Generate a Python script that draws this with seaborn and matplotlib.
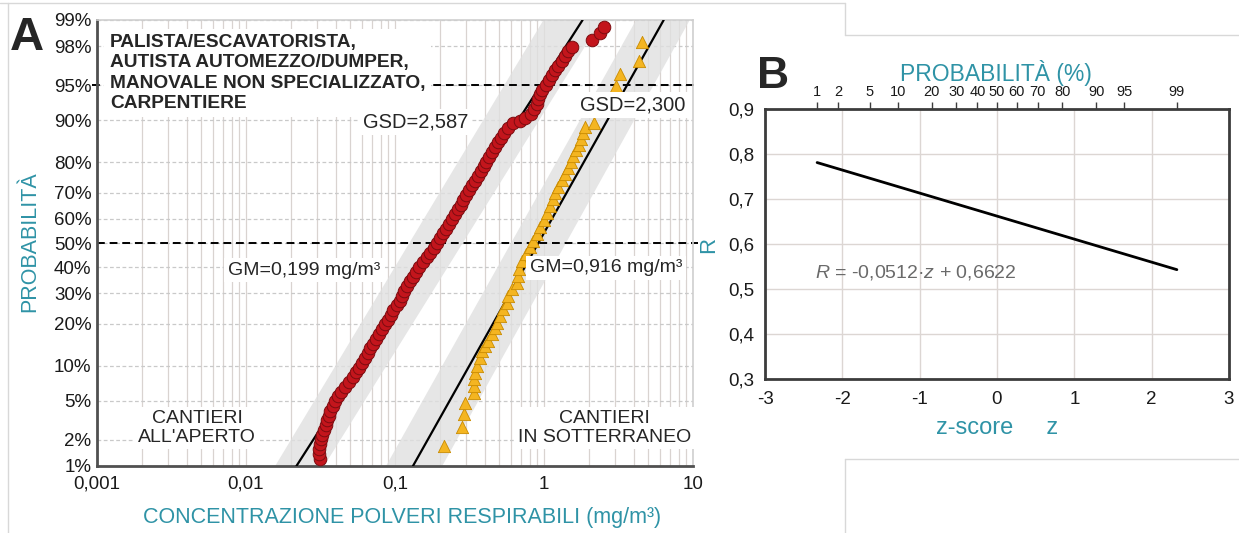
import numpy as np
import matplotlib
matplotlib.use("Agg")
import matplotlib.pyplot as plt
import seaborn as sns
from matplotlib.lines import Line2D
from statistics import NormalDist

# ---------------- DATA ----------------
# Panel A - outdoor sites (red circles): concentration (mg/m3) and cumulative probability (%)
red_conc = [0.0314, 0.0311, 0.0309, 0.0314, 0.0319, 0.0326, 0.0334, 0.0342, 0.0350, 0.0359,
            0.0366, 0.0381, 0.0395, 0.0412, 0.0431, 0.0462, 0.0494, 0.0523, 0.0548, 0.0574,
            0.0600, 0.0627, 0.0655, 0.0683, 0.0712, 0.0746, 0.0781, 0.0818, 0.0855, 0.0893,
            0.0933, 0.0976, 0.1027, 0.1080, 0.1116, 0.1158, 0.1206, 0.1253, 0.1317, 0.1385,
            0.1460, 0.1543, 0.1634, 0.1728, 0.1818, 0.1910, 0.2004, 0.2102, 0.2199, 0.2303,
            0.2413, 0.2523, 0.2635, 0.2752, 0.2873, 0.3000, 0.3133, 0.3276, 0.3426, 0.3589,
            0.3754, 0.3932, 0.4106, 0.4287, 0.4484, 0.4683, 0.4882, 0.5106, 0.5348, 0.5759,
            0.6223, 0.685, 0.7504, 0.8243, 0.8595, 0.8920, 0.9143, 0.9344, 0.9770, 1.028, 1.079,
            1.126, 1.184, 1.247, 1.313, 1.381, 1.460, 1.553,
            2.100, 2.376, 2.527]
red_prob = [1.22, 1.39, 1.58, 1.79, 2.02, 2.28, 2.56, 2.87, 3.22, 3.59,
            4.01, 4.46, 4.95, 5.48, 6.06, 6.68, 7.35, 8.08, 8.85, 9.68,
            10.56, 11.51, 12.51, 13.57, 14.69, 15.87, 17.11, 18.41, 19.77, 21.19,
            22.66, 24.20, 25.78, 27.43, 29.12, 30.85, 32.64, 34.46, 36.32, 38.21,
            40.13, 42.07, 44.04, 46.02, 48.01, 50.00, 51.99, 53.98, 55.96, 57.93,
            59.87, 61.79, 63.68, 65.54, 67.36, 69.15, 70.88, 72.57, 74.22, 75.80,
            77.34, 78.81, 80.23, 81.59, 82.89, 84.13, 85.31, 86.43, 87.49, 88.49,
            89.44, 89.85, 90.32, 91.15, 91.92, 92.65, 93.32, 93.94, 94.52, 95.05, 95.54,
            95.99, 96.41, 96.78, 97.13, 97.44, 97.72, 97.98,
            98.29, 98.57, 98.79]

# Panel A - underground sites (yellow triangles)
yel_conc = [0.213, 0.282, 0.290, 0.295, 0.339, 0.339, 0.339, 0.344, 0.355, 0.372,
            0.384, 0.402, 0.421, 0.448, 0.469, 0.484, 0.507, 0.531, 0.565, 0.573,
            0.610, 0.659, 0.669, 0.680, 0.712, 0.757, 0.805, 0.844, 0.897, 0.940,
            1.000, 1.047, 1.097, 1.149, 1.185, 1.242, 1.321, 1.383, 1.449, 1.518,
            1.565, 1.640, 1.718, 1.772, 1.827, 1.885, 2.166, 3.042, 3.236, 4.342, 4.548]
yel_prob = [1.71, 2.76, 3.74, 4.78, 5.90, 6.81, 7.84, 8.79, 10.01, 11.57,
            13.05, 14.19, 15.41, 17.21, 18.86, 20.30, 22.42, 24.67, 26.70, 29.15,
            31.71, 33.98, 36.69, 39.47, 42.74, 45.62, 48.13, 51.04, 53.94, 56.44,
            59.29, 62.10, 64.88, 67.54, 69.74, 71.90, 74.32, 76.30, 78.19, 80.01,
            81.70, 83.32, 84.59, 86.03, 87.38, 88.63, 89.42, 94.91, 96.09, 97.11, 98.20]

# fitted lognormal lines (end points at 1% and 99%)
fit_prob = [1, 99]
red_fit_conc = [0.0218, 1.816]
yel_fit_conc = [0.132, 6.36]
# grey bands (left / right edges at 1% and 99%)
red_band_left = [0.0155, 0.98]
red_band_right = [0.0330, 2.40]
yel_band_left = [0.086, 4.10]
yel_band_right = [0.205, 9.40]

prob_ticks = [1, 2, 5, 10, 20, 30, 40, 50, 60, 70, 80, 90, 95, 98, 99]
prob_labels = [f"{p}%" for p in prob_ticks]
conc_ticks = [0.001, 0.01, 0.1, 1, 10]
conc_labels = ["0,001", "0,01", "0,1", "1", "10"]

# Panel B
z_line = [-2.326, 2.326]
r_line = [0.781, 0.543]
z_ticks = [-3, -2, -1, 0, 1, 2, 3]
z_labels = ["-3", "-2", "-1", "0", "1", "2", "3"]
r_ticks = [0.3, 0.4, 0.5, 0.6, 0.7, 0.8, 0.9]
r_labels = ["0,3", "0,4", "0,5", "0,6", "0,7", "0,8", "0,9"]
top_prob_ticks = [1, 2, 5, 10, 20, 30, 40, 50, 60, 70, 80, 90, 95, 99]

# ---------------- STYLE ----------------
sns.set_style("white")
plt.rcParams["font.family"] = ["Liberation Sans", "DejaVu Sans"]
plt.rcParams["mathtext.fontset"] = "custom"
plt.rcParams["mathtext.rm"] = "Liberation Sans"
plt.rcParams["mathtext.it"] = "Liberation Sans:italic"
plt.rcParams["axes.unicode_minus"] = False

TEAL = "#2f93a6"
ND = NormalDist()


def _ppf1(q):
    if not np.isfinite(q):
        return np.nan
    q = min(max(q, 1e-12), 1 - 1e-12)
    return ND.inv_cdf(q)


def _cdf1(z):
    if np.isnan(z):
        return np.nan
    if not np.isfinite(z):
        return 1.0 if z > 0 else 0.0
    return ND.cdf(z)


_ppf = np.vectorize(_ppf1, otypes=[float])
_cdf = np.vectorize(_cdf1, otypes=[float])


def prob_fwd(p):
    return _ppf(np.asarray(p, dtype=float) / 100.0)


def prob_inv(z):
    return _cdf(np.asarray(z, dtype=float)) * 100.0


W, H = 1239, 533
fig = plt.figure(figsize=(W / 100, H / 100), dpi=100)
fig.patch.set_facecolor("white")


def fx(px):
    return px / W


def fy(py):
    return 1 - py / H


# ---------------- PANEL A ----------------
axA = fig.add_axes([fx(97), fy(466), fx(693) - fx(97), fy(20) - fy(466)])
axA.set_xscale("log")
axA.set_yscale("function", functions=(prob_fwd, prob_inv))
axA.set_xlim(0.001, 10)
axA.set_ylim(1, 99)
axA.set_axisbelow(True)

axA.xaxis.set_major_locator(matplotlib.ticker.FixedLocator(conc_ticks))
axA.xaxis.set_major_formatter(matplotlib.ticker.FixedFormatter(conc_labels))
axA.xaxis.set_minor_locator(matplotlib.ticker.LogLocator(base=10, subs=np.arange(2, 10)))
axA.xaxis.set_minor_formatter(matplotlib.ticker.NullFormatter())
axA.yaxis.set_major_locator(matplotlib.ticker.FixedLocator(prob_ticks))
axA.yaxis.set_major_formatter(matplotlib.ticker.FixedFormatter(prob_labels))
axA.yaxis.set_minor_locator(matplotlib.ticker.NullLocator())
axA.tick_params(axis="both", which="both", length=0, labelsize=13.5, colors="#1a1a1a")
axA.tick_params(axis="y", pad=4)
axA.tick_params(axis="x", pad=7)

axA.grid(axis="x", which="both", color="#d9d3d0", lw=0.9)
axA.grid(axis="y", which="major", color="#c9c9c9", lw=0.9, ls=(0, (3, 2)))

for k in ["left", "bottom"]:
    axA.spines[k].set_color("#505050")
    axA.spines[k].set_linewidth(2.0)
for k in ["top", "right"]:
    axA.spines[k].set_color("#cfcfcf")
    axA.spines[k].set_linewidth(1.2)

# grey bands
axA.fill_betweenx(fit_prob, red_band_left, red_band_right, color="#e0e0e0", alpha=0.8, lw=0, zorder=1)
axA.fill_betweenx(fit_prob, yel_band_left, yel_band_right, color="#e0e0e0", alpha=0.8, lw=0, zorder=1)

# fitted lines
sns.lineplot(x=red_fit_conc, y=fit_prob, ax=axA, color="black", lw=1.6, sort=False, estimator=None, zorder=3)
sns.lineplot(x=yel_fit_conc, y=fit_prob, ax=axA, color="black", lw=1.6, sort=False, estimator=None, zorder=3)

# reference lines 50% and 95%
for p in [50, 95]:
    axA.plot([-0.008 if p == 95 else 0.0, 1.008], [p, p], transform=axA.get_yaxis_transform(),
             color="black", lw=1.4, ls=(0, (4, 2.5)), clip_on=False, zorder=2)

# data points
sns.scatterplot(x=yel_conc, y=yel_prob, ax=axA, marker="^", s=78, color="#f4b521",
                edgecolor="#c98b00", linewidth=0.6, zorder=4)
sns.scatterplot(x=red_conc, y=red_prob, ax=axA, marker="o", s=82, color="#c3151c",
                edgecolor="#7c0c10", linewidth=0.7, zorder=5)

box = dict(boxstyle="square,pad=0.18", fc="white", ec="none")
axA.text(0.022, 0.968, "PALISTA/ESCAVATORISTA,\nAUTISTA AUTOMEZZO/DUMPER,\nMANOVALE NON SPECIALIZZATO,\nCARPENTIERE",
         transform=axA.transAxes, ha="left", va="top", fontsize=13.8, fontweight="bold",
         linespacing=1.24, bbox=dict(boxstyle="square,pad=0.3", fc="white", ec="none"), zorder=6)
axA.text(0.535, 0.771, "GSD=2,587", transform=axA.transAxes, ha="center", va="center",
         fontsize=14.5, bbox=box, zorder=6)
axA.text(0.899, 0.809, "GSD=2,300", transform=axA.transAxes, ha="center", va="center",
         fontsize=14.5, bbox=box, zorder=6)
axA.text(0.347, 0.439, "GM=0,199 mg/m³", transform=axA.transAxes, ha="center", va="center",
         fontsize=14, bbox=box, zorder=6)
axA.text(0.854, 0.444, "GM=0,916 mg/m³", transform=axA.transAxes, ha="center", va="center",
         fontsize=14, bbox=box, zorder=6)
axA.text(0.168, 0.085, "CANTIERI\nALL'APERTO", transform=axA.transAxes, ha="center", va="center",
         fontsize=14, linespacing=1.1, bbox=box, zorder=6)
axA.text(0.852, 0.085, "CANTIERI\nIN SOTTERRANEO", transform=axA.transAxes, ha="center", va="center",
         fontsize=14, linespacing=1.1, bbox=box, zorder=6)

fig.text(fx(27), fy(38), "A", ha="center", va="center", fontsize=34, fontweight="bold")
fig.text(fx(30), fy(242), "PROBABILITÀ", rotation=90, ha="center", va="center", fontsize=15.5, color=TEAL)
fig.text(fx(402), fy(517), "CONCENTRAZIONE POLVERI RESPIRABILI (mg/m³)", ha="center", va="center",
         fontsize=15.5, color=TEAL)

# ---------------- PANEL B ----------------
axB = fig.add_axes([fx(765), fy(379), fx(1229) - fx(765), fy(109) - fy(379)])
axB.set_xlim(-3, 3)
axB.set_ylim(0.3, 0.9)
axB.set_axisbelow(True)
axB.set_xticks(z_ticks)
axB.set_xticklabels(z_labels)
axB.set_yticks(r_ticks)
axB.set_yticklabels(r_labels)
axB.grid(True, color="#dcd6d3", lw=1.0)
for k in axB.spines:
    axB.spines[k].set_color("#3c3c3c")
    axB.spines[k].set_linewidth(2.0)
axB.tick_params(axis="x", length=5, width=1.2, color="#3c3c3c", labelsize=13.5, pad=4, colors="#1a1a1a")
axB.tick_params(axis="y", length=0, labelsize=13.5, pad=8, colors="#1a1a1a")

sns.lineplot(x=z_line, y=r_line, ax=axB, color="black", lw=2.0, sort=False, estimator=None)

secB = axB.secondary_xaxis("top", functions=(prob_inv, prob_fwd))
secB.set_xticks(top_prob_ticks)
secB.set_xticklabels([str(p) for p in top_prob_ticks])
secB.tick_params(axis="x", length=5, width=1.0, color="#3c3c3c", labelsize=10.5, pad=2, colors="#1a1a1a")
secB.spines["top"].set_visible(False)

axB.text(0.108, 0.396, r"$R$ = -0,0512·$z$ + 0,6622", transform=axB.transAxes, ha="left", va="center",
         fontsize=14, color="#6a6a6a")

fig.text(fx(773), fy(76), "B", ha="center", va="center", fontsize=32, fontweight="bold")
fig.text(fx(996), fy(73), "PROBABILITÀ (%)", ha="center", va="center", fontsize=16.5, color=TEAL)
fig.text(fx(709), fy(245), "R", rotation=90, ha="center", va="center", fontsize=16, color=TEAL)
fig.text(fx(997), fy(428), "z-score     z", ha="center", va="center", fontsize=17, color=TEAL)

# ---------------- panel frames ----------------
frame_c = "#d8d8d8"
segs = [
    ([0, 845], [3, 3]), ([845, 845], [3, 35]), ([845, W], [35, 35]), ([8, 8], [3, H]),
    ([845, W], [459, 459]), ([845, 845], [459, H]),
]
for xs, ys in segs:
    fig.add_artist(Line2D([fx(x) for x in xs], [fy(y) for y in ys], color=frame_c, lw=1.0))

fig.savefig("out.png", dpi=100, facecolor="white")
